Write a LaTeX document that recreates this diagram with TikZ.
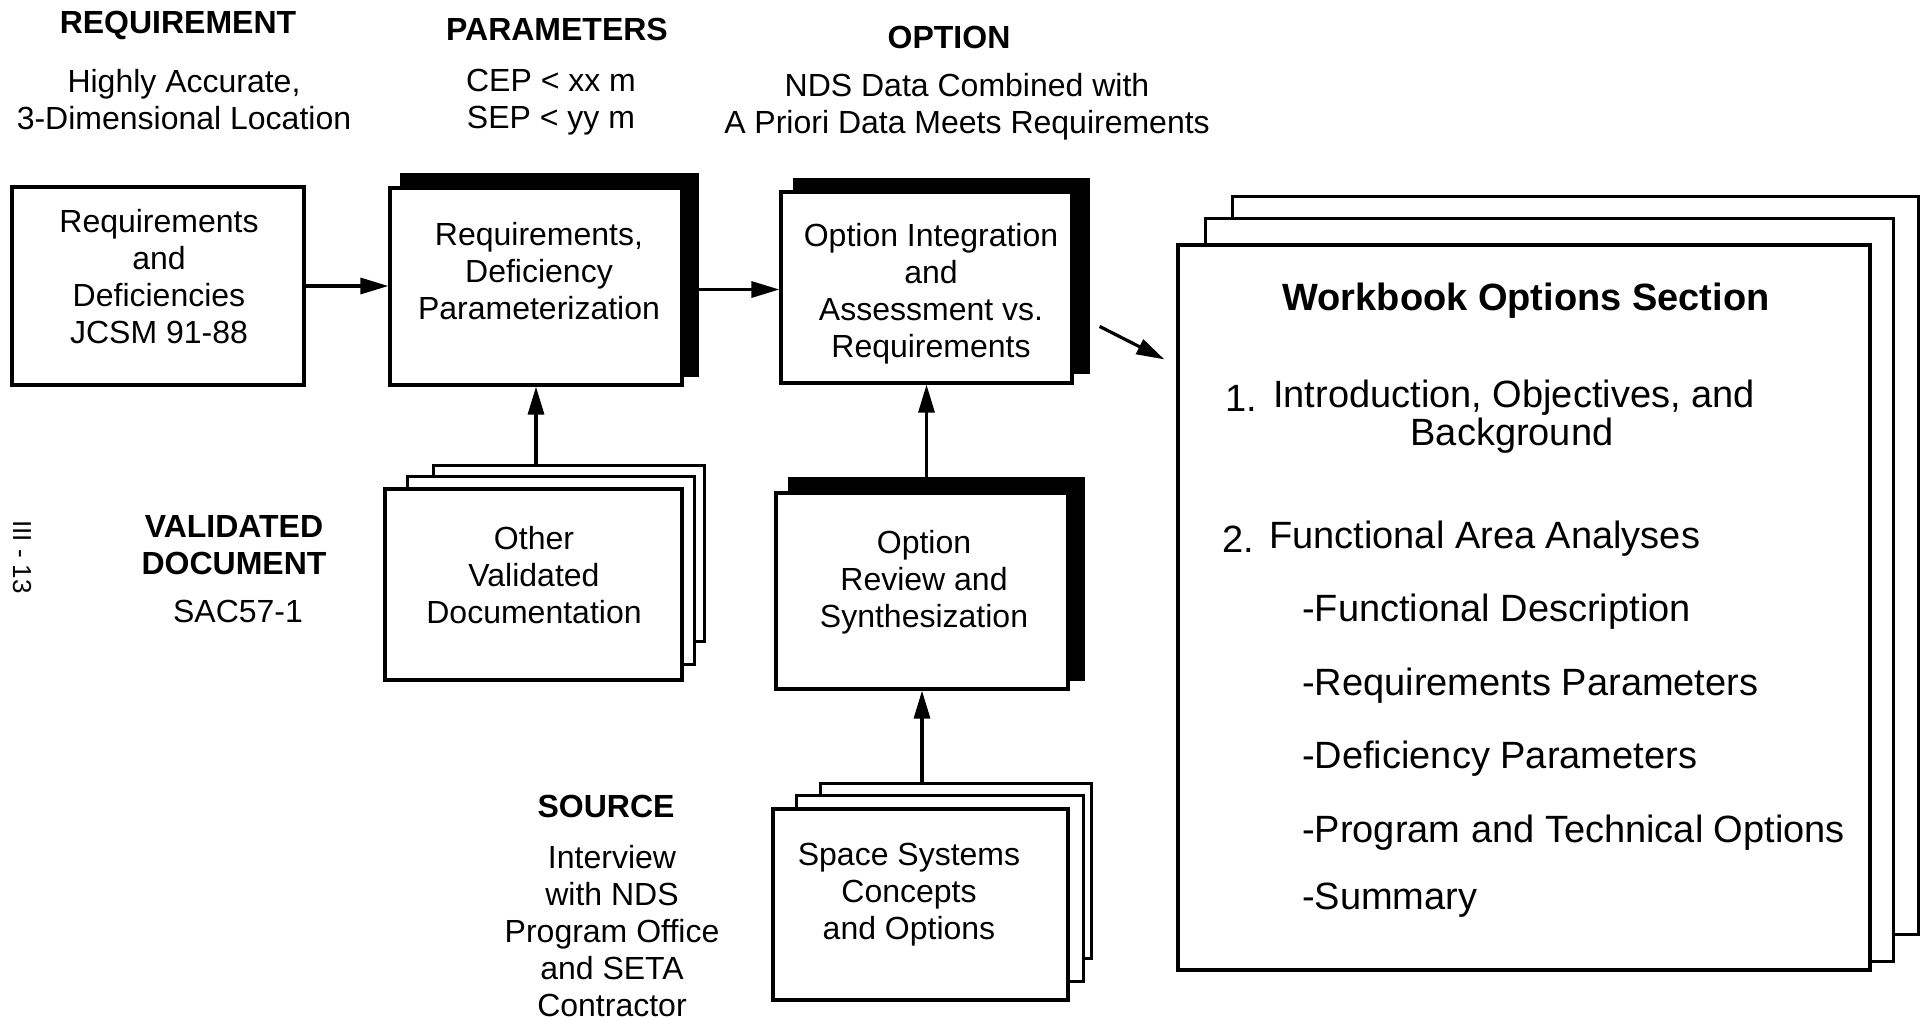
\documentclass[tikz,border=0pt]{standalone}
\usepackage{fontspec}
\setmainfont{Liberation Sans}
\usetikzlibrary{arrows.meta,backgrounds}
\tikzset{
  box/.style={draw, line width=3.2pt, fill=white, inner sep=0pt},
  page/.style={draw, line width=2.8pt, fill=white},
  txt/.style={align=center, font=\fontsize{32}{37}\selectfont, inner sep=0pt},
  hdr/.style={align=center, font=\bfseries\fontsize{32}{37}\selectfont, inner sep=0pt},
  wbtxt/.style={font=\fontsize{38}{38}\selectfont, anchor=west, inner sep=0pt},
  arr/.style={line width=3.2pt, -{Triangle[length=28pt,width=16pt]}},
}
\begin{document}
\begin{tikzpicture}[x=1pt,y=-1pt]
\useasboundingbox (0,0) rectangle (1920,1020);

% ---- header labels
\node[hdr] (hreq) at (178,25) {REQUIREMENT};
\node[txt] (treq) at (184,100) {Highly Accurate,\\3-Dimensional Location};
\node[hdr] (hpar) at (557,29) {PARAMETERS};
\node[txt] (tpar) at (551,102) {CEP < xx m\\SEP < yy m};
\node[hdr] (hopt) at (949,37) {OPTION};
\node[txt] (topt) at (967,107) {NDS Data Combined with\\A Priori Data Meets Requirements};

% ---- side labels
\node[font=\fontsize{26}{26}\selectfont, rotate=-90, inner sep=0pt] (pg) at (22,557) {III - 13};
\node[hdr] (hval) at (234,545) {VALIDATED\\DOCUMENT};
\node[txt] (tval) at (238,611) {SAC57-1};
\node[hdr] (hsrc) at (606,806) {SOURCE};
\node[txt] (tsrc) at (612,931) {Interview\\with NDS\\Program Office\\and SETA\\Contractor};

% ---- boxes
\node[box, minimum width=292pt, minimum height=198pt] (b1) at (158,286) {};
\node[txt] (b1t) at (159,277) {Requirements\\and\\Deficiencies\\JCSM 91-88};

\node[box, minimum width=292pt, minimum height=197pt] (b2) at (536,286.5) {};
\node[txt] (b2t) at (539,271) {Requirements,\\Deficiency\\Parameterization};

\node[box, minimum width=291pt, minimum height=191pt] (b3) at (926.5,287.5) {};
\node[txt] (b3t) at (931,294) {Option Integration\\and\\Assessment vs.\\Requirements};

\node[box, minimum width=297pt, minimum height=191pt] (b4) at (533.5,584.5) {};
\node[txt] (b4t) at (534,575) {Other\\Validated\\Documentation};

\node[box, minimum width=292pt, minimum height=196pt] (b5) at (922,591) {};
\node[txt] (b5t) at (924,582) {Option\\Review and\\Synthesization};

\node[box, minimum width=295pt, minimum height=191pt] (b6) at (920.5,904.5) {};
\node[txt] (b6t) at (909,895) {Space Systems\\Concepts\\and Options};

\node[box, minimum width=692pt, minimum height=725pt] (wb) at (1524,607.5) {};
\node[font=\bfseries\fontsize{38}{38}\selectfont, inner sep=0pt] (wbh) at (1526,301) {Workbook Options Section};
\node[wbtxt] (w1n) at (1225,398) {1.};
\node[wbtxt] (w1) at (1273,398) {Introduction, Objectives, and};
\node[font=\fontsize{38}{38}\selectfont, inner sep=0pt] (w1b) at (1512,436) {Background};
\node[wbtxt] (w2n) at (1222,539) {2.};
\node[wbtxt] (w2) at (1269,539) {Functional Area Analyses};
\node[wbtxt] (s1) at (1302,612) {-Functional Description};
\node[wbtxt] (s2) at (1302,686) {-Requirements Parameters};
\node[wbtxt] (s3) at (1302,759) {-Deficiency Parameters};
\node[wbtxt] (s4) at (1302,833) {-Program and Technical Options};
\node[wbtxt] (s5) at (1302,900) {-Summary};

% ---- shadows and stacked pages behind
\begin{scope}[on background layer]
  \fill[white] (0,0) rectangle (1920,1020);
  \fill ([shift={(12,-13)}]b2.north west) rectangle ([shift={(15,-10)}]b2.south east);
  \fill ([shift={(14,-12)}]b3.north west) rectangle ([shift={(16,-11)}]b3.south east);
  \fill ([shift={(14,-14)}]b5.north west) rectangle ([shift={(15,-10)}]b5.south east);
  % other validated documentation pages
  \draw[page] ([shift={(50,-22)}]b4.north west) rectangle ([shift={(21,-40)}]b4.south east);
  \draw[page] ([shift={(24,-11)}]b4.north west) rectangle ([shift={(11,-17)}]b4.south east);
  % space systems pages
  \draw[page] ([shift={(49,-24)}]b6.north west) rectangle ([shift={(22,-43)}]b6.south east);
  \draw[page] ([shift={(25,-12)}]b6.north west) rectangle ([shift={(14,-20)}]b6.south east);
  % workbook pages
  \draw[page] ([shift={(56,-47)}]wb.north west) rectangle ([shift={(47,-37)}]wb.south east);
  \draw[page] ([shift={(29,-25)}]wb.north west) rectangle ([shift={(22,-10)}]wb.south east);
\end{scope}

% ---- connectors
\coordinate (b4top) at ([yshift=22pt]b4.north);
\coordinate (b5top) at ([yshift=14pt]b5.north);
\coordinate (b6top) at ([yshift=24pt]b6.north);
\coordinate (dtail) at ([shift={(26,136)}]b3.north east);
\coordinate (dtip) at ([shift={(-12,116)}]wb.north west);

\draw[arr] (b1.east) -- (b1.east -| b2.west);
\draw[arr] ([yshift=-3pt]b2.east) -- ([yshift=-3pt]b2.east -| b3.west);
\draw[arr] (b4top -| b2.south) -- (b2.south);
\draw[arr] (b5top -| b3.south) -- (b3.south);
\draw[arr] (b6top -| b5.south) -- (b5.south);
\draw[arr] (dtail) -- (dtip);
\end{tikzpicture}
\end{document}
